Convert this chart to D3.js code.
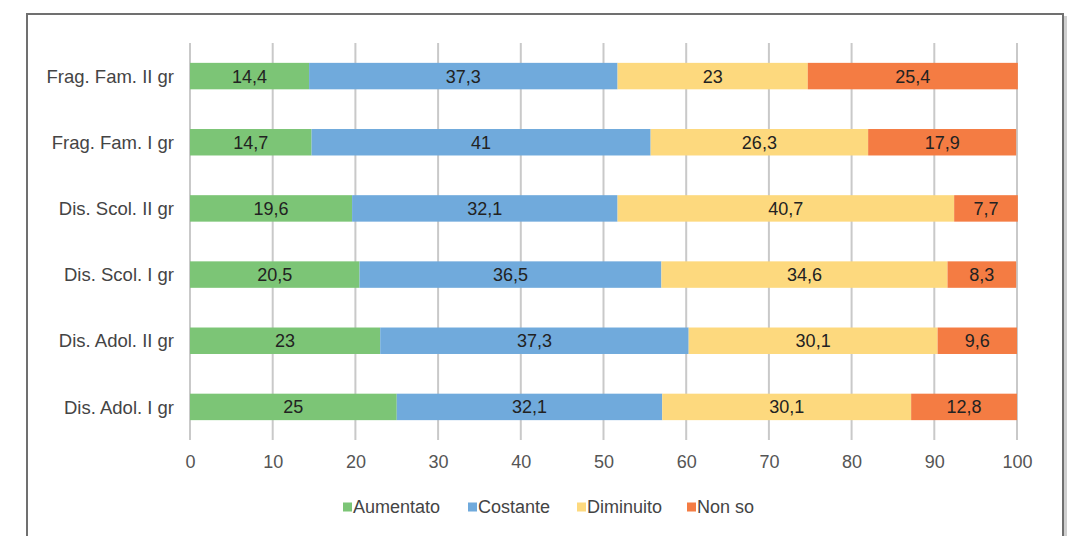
<!DOCTYPE html>
<html>
<head>
<meta charset="utf-8">
<script src="https://cdn.jsdelivr.net/npm/d3@7"></script>
<style>
  html, body { margin: 0; padding: 0; background: #fff; }
  svg { display: block; font-family: "Liberation Sans", Arial, sans-serif; }
</style>
</head>
<body>
<svg id="chart" width="1067" height="536"></svg>
<script>
// Categories, top to bottom
const categories = [
  "Frag. Fam. II gr",
  "Frag. Fam. I gr",
  "Dis. Scol. II gr",
  "Dis. Scol. I gr",
  "Dis. Adol. II gr",
  "Dis. Adol. I gr"
];
const seriesNames = ["Aumentato", "Costante", "Diminuito", "Non so"];
const aumentato = [14.4, 14.7, 19.6, 20.5, 23, 25];
const costante  = [37.3, 41, 32.1, 36.5, 37.3, 32.1];
const diminuito = [23, 26.3, 40.7, 34.6, 30.1, 30.1];
const nonSo     = [25.4, 17.9, 7.7, 8.3, 9.6, 12.8];
const xTicks = [0, 10, 20, 30, 40, 50, 60, 70, 80, 90, 100];
const colors = ["#7cc576", "#70aadc", "#fdd97e", "#f47c43"];

const seriesValues = [aumentato, costante, diminuito, nonSo];
const rows = categories.map((c, i) => {
  const r = { cat: c };
  seriesNames.forEach((s, j) => r[s] = seriesValues[j][i]);
  return r;
});

const svg = d3.select("#chart");

// Frame around the chart area, with a soft shadow on the right edge
svg.append("line")
  .attr("x1", 1065.5).attr("x2", 1065.5).attr("y1", 16).attr("y2", 540)
  .attr("stroke", "#cfcfcf").attr("stroke-width", 3);
svg.append("path")
  .attr("d", "M27,540 L27,14 L1063,14 L1063,540")
  .attr("fill", "none")
  .attr("stroke", "#707070")
  .attr("stroke-width", 2);

const x = d3.scaleLinear().domain([0, 100]).range([190, 1017]);
const y = d3.scaleBand().domain(categories).range([43, 440]).paddingInner(0.6).paddingOuter(0.3);

// Vertical gridlines
svg.append("g").selectAll("line")
  .data(xTicks)
  .join("line")
  .attr("x1", d => x(d)).attr("x2", d => x(d))
  .attr("y1", 43).attr("y2", 440)
  .attr("stroke", "#c9c9c9")
  .attr("stroke-width", 2);

// Stacked bars
const stack = d3.stack().keys(seriesNames)(rows);
const layers = svg.append("g").selectAll("g")
  .data(stack)
  .join("g")
  .attr("fill", (d, i) => colors[i]);

layers.selectAll("rect")
  .data(d => d)
  .join("rect")
  .attr("x", d => x(d[0]))
  .attr("width", d => x(d[1]) - x(d[0]))
  .attr("y", d => y(d.data.cat))
  .attr("height", y.bandwidth());

// Value labels centred on each segment
layers.selectAll("text")
  .data((d) => d.map(v => ({ v, key: d.key })))
  .join("text")
  .attr("x", d => (x(d.v[0]) + x(d.v[1])) / 2)
  .attr("y", d => y(d.v.data.cat) + y.bandwidth() / 2)
  .attr("dy", "0.36em")
  .attr("text-anchor", "middle")
  .attr("fill", "#222")
  .attr("font-size", 18)
  .text(d => String(d.v.data[d.key]).replace(".", ","));

// Category axis labels
svg.append("g").selectAll("text")
  .data(categories)
  .join("text")
  .attr("x", 174)
  .attr("y", d => y(d) + y.bandwidth() / 2)
  .attr("dy", "0.36em")
  .attr("text-anchor", "end")
  .attr("fill", "#444")
  .attr("font-size", 18.5)
  .text(d => d);

// Value axis tick labels
const xAxis = svg.append("g")
  .attr("transform", "translate(0,462)")
  .call(d3.axisBottom(x).tickValues(xTicks).tickSize(0).tickPadding(0).tickFormat(d3.format("d")));
xAxis.select(".domain").remove();
xAxis.selectAll("text")
  .attr("font-size", 18)
  .attr("fill", "#555")
  .attr("font-family", "Liberation Sans, Arial, sans-serif")
  .attr("y", 0)
  .attr("dy", "0.36em");

// Legend
const legendX = [343, 468, 577, 687];
const legend = svg.append("g").selectAll("g")
  .data(seriesNames)
  .join("g")
  .attr("transform", (d, i) => `translate(${legendX[i]},507)`);
legend.append("rect")
  .attr("x", 0).attr("y", -4.5)
  .attr("width", 9).attr("height", 9)
  .attr("fill", (d, i) => colors[i]);
legend.append("text")
  .attr("x", 10)
  .attr("dy", "0.36em")
  .attr("font-size", 18)
  .attr("fill", "#444")
  .text(d => d);
</script>
</body>
</html>
